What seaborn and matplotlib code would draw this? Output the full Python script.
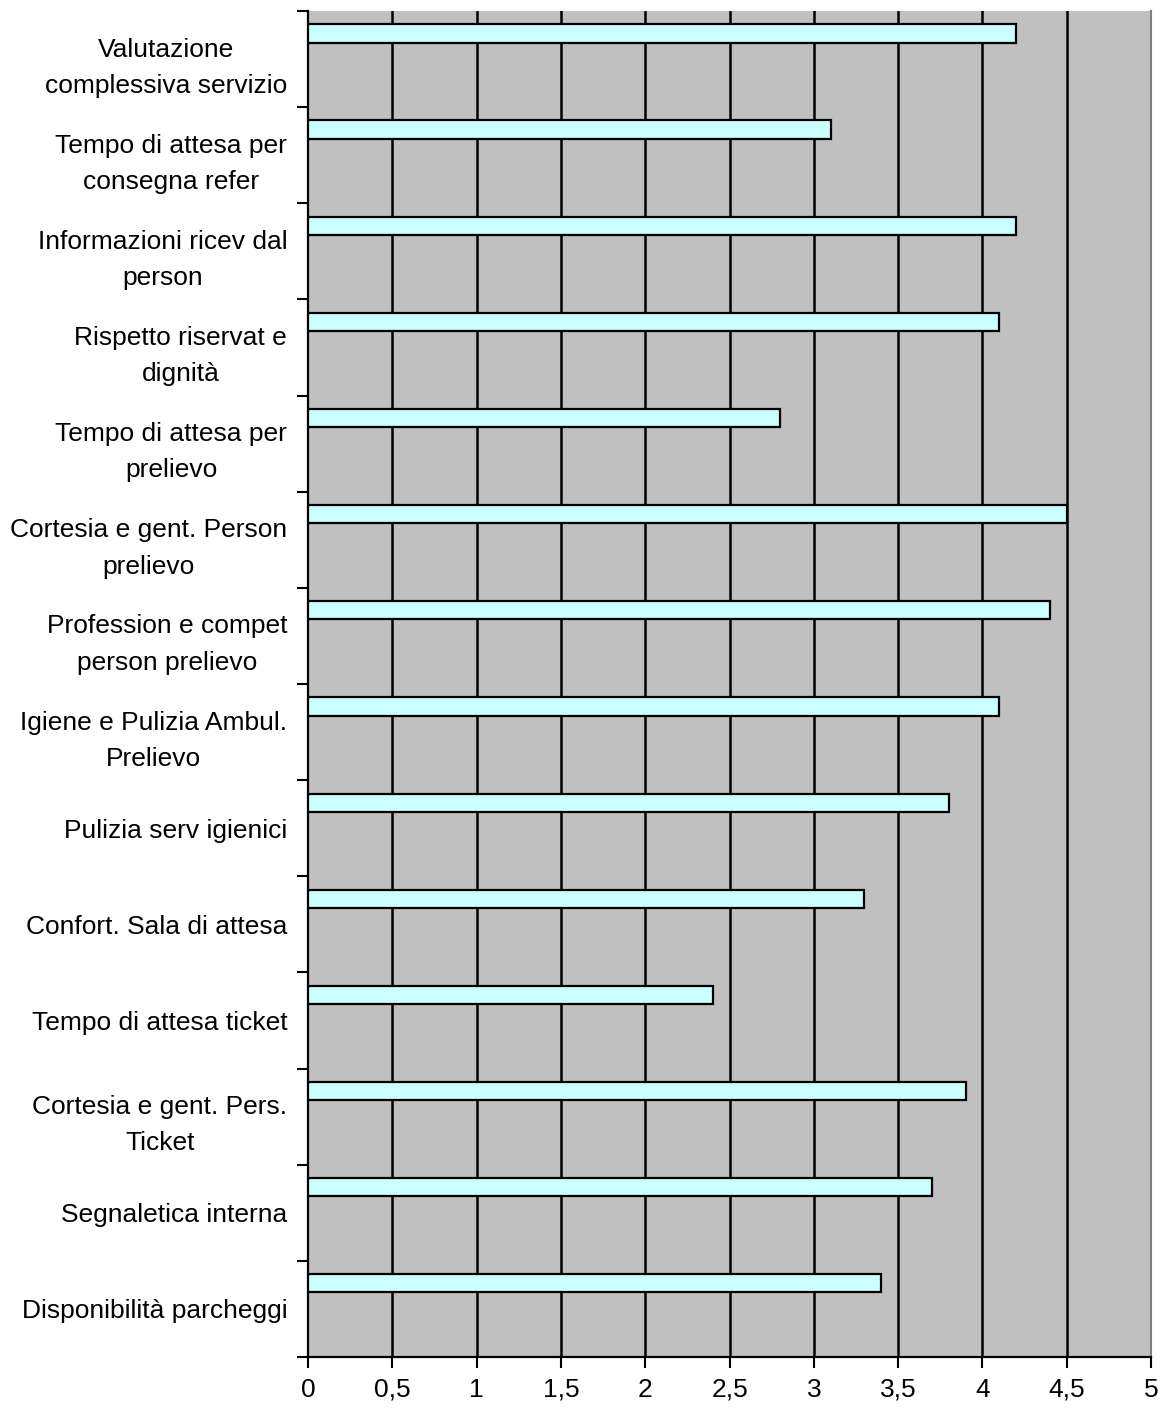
import matplotlib
matplotlib.use('Agg')
import matplotlib.pyplot as plt
import numpy as np
import seaborn as sns
import pandas as pd

# Dati del grafico
categorie = [
    'Valutazione\ncomplessiva servizio',
    'Tempo di attesa per\nconsegna refer',
    'Informazioni ricev dal\nperson',
    'Rispetto riservat e\ndignità',
    'Tempo di attesa per\nprelievo',
    'Cortesia e gent. Person\nprelievo',
    'Profession e compet\nperson prelievo',
    'Igiene e Pulizia Ambul.\nPrelievo',
    'Pulizia serv igienici',
    'Confort. Sala di attesa',
    'Tempo di attesa ticket',
    'Cortesia e gent. Pers.\nTicket',
    'Segnaletica interna',
    'Disponibilità parcheggi',
]
valori = [4.2, 3.1, 4.2, 4.1, 2.8, 4.5, 4.4, 4.1, 3.8, 3.3, 2.4, 3.9, 3.7, 3.4]
tick_x = [0, 0.5, 1, 1.5, 2, 2.5, 3, 3.5, 4, 4.5, 5]
etichette_x = ['0', '0,5', '1', '1,5', '2', '2,5', '3', '3,5', '4', '4,5', '5']

df = pd.DataFrame({'categoria': categorie, 'valore': valori})

sns.set_style('white')
plt.rcParams['font.family'] = ['Liberation Sans', 'DejaVu Sans']
plt.rcParams['text.color'] = 'black'
plt.rcParams['xtick.color'] = 'black'
plt.rcParams['ytick.color'] = 'black'

fig = plt.figure(figsize=(11.66, 14.09), dpi=100)
ax = fig.add_axes([0.2642, 0.0369, 0.7229, 0.9553])
ax.set_facecolor('#c0c0c0')

# griglia verticale
for x in tick_x[1:-1]:
    ax.axvline(x, color='black', linewidth=1.8, zorder=1)

sns.barplot(data=df, x='valore', y='categoria', orient='h', width=0.19,
            color='#ccffff', edgecolor='black', linewidth=1.6, saturation=1,
            ax=ax, zorder=3)

n = len(categorie)
off = 0.266  # la barra sta in alto nella fascia della categoria
ax.set_xlim(0, 5)
ax.set_ylim(n - 0.234, -0.234)
ax.set_yticks(np.arange(n) + off)
ax.set_yticklabels(categorie, multialignment='center', linespacing=1.65)
ax.set_yticks(np.arange(n + 1) - 0.234, minor=True)
ax.set_xticks(tick_x)
ax.set_xticklabels(etichette_x)
ax.set_xlabel('')
ax.set_ylabel('')

ax.tick_params(axis='y', which='major', length=0, pad=15, labelsize=19, labelcolor='black')
ax.tick_params(axis='y', which='minor', left=True, length=8, width=1.5, color='black')
ax.tick_params(axis='x', bottom=True, length=8, width=1.5, color='black', pad=7,
               labelsize=19, labelcolor='black')

for lato in ['left', 'bottom']:
    ax.spines[lato].set_color('black')
    ax.spines[lato].set_linewidth(1.6)
ax.spines['top'].set_visible(False)
ax.spines['right'].set_color('#808080')
ax.spines['right'].set_linewidth(1.5)

plt.savefig('out.png', dpi=100)
